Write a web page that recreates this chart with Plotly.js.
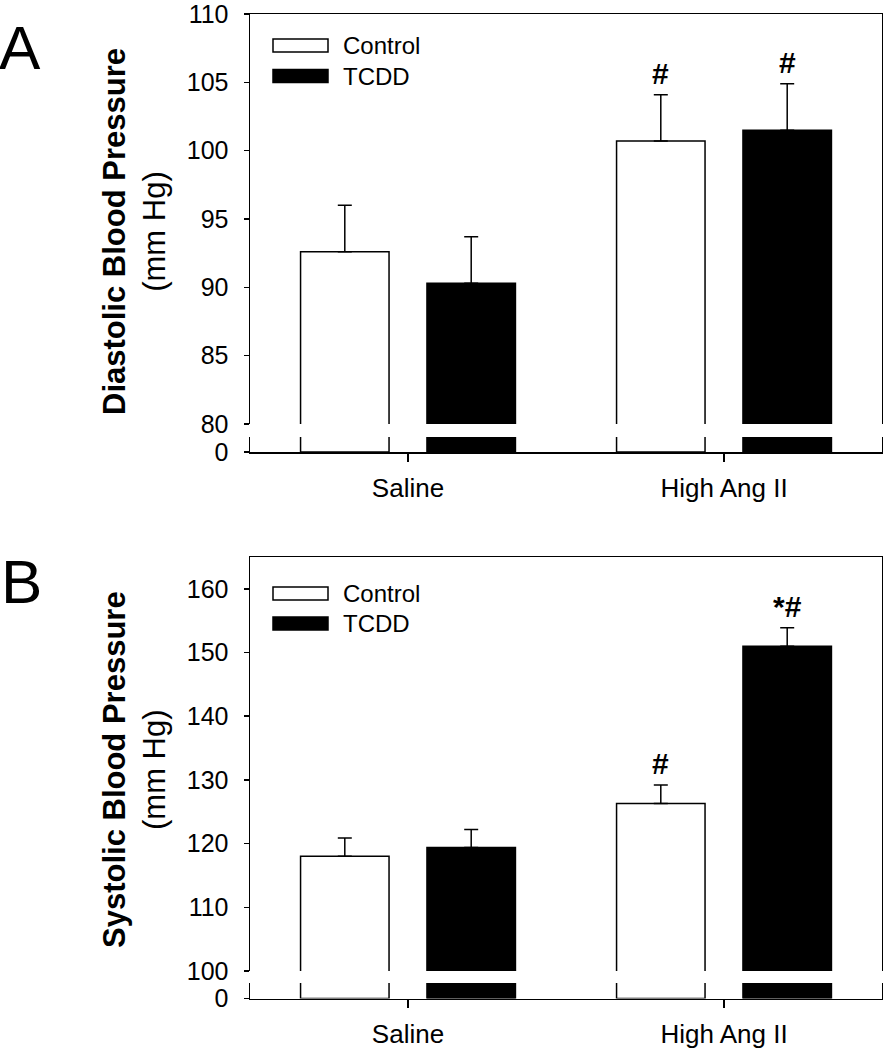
<!DOCTYPE html>
<html>
<head>
<meta charset="utf-8">
<script src="https://cdn.plot.ly/plotly-3.0.1.min.js"></script>
<style>html,body{margin:0;padding:0;background:#fff;}</style>
</head>
<body>
<div id="chart" style="width:883px;height:1050px;"></div>
<script>
// ---- data ----
const categories = ["Saline", "High Ang II"];
const seriesNames = ["Control", "TCDD"];

const diastolicControl = [92.6, 100.7];
const diastolicControlErr = [3.4, 3.4];
const diastolicTCDD = [90.3, 101.5];
const diastolicTCDDErr = [3.4, 3.4];

const systolicControl = [118.0, 126.3];
const systolicControlErr = [2.9, 2.9];
const systolicTCDD = [119.4, 151.0];
const systolicTCDDErr = [2.8, 2.9];

const noLowerErr = [0, 0];

const diastolicControlSig = ["", "#"];
const diastolicTCDDSig = ["", "#"];
const systolicControlSig = ["", "#"];
const systolicTCDDSig = ["", "*#"];

const diastolicTicks = [80, 85, 90, 95, 100, 105, 110];
const systolicTicks = [100, 110, 120, 130, 140, 150, 160];

// ---- styling ----
const FONT = "Liberation Sans, Arial, Helvetica, sans-serif";
const LW = 1.5;
const fills = ["#ffffff", "#000000"];

function barTrace(name, vals, errs, fill, xa, ya) {
  return {
    type: "bar", name: name, x: categories, y: vals, xaxis: xa, yaxis: ya,
    marker: {color: fill, line: {color: "#000", width: LW}},
    error_y: {type: "data", symmetric: false, array: errs, arrayminus: noLowerErr,
              color: "#000", thickness: LW, width: 7},
    showlegend: false, hoverinfo: "x+y"
  };
}

const traces = [
  barTrace(seriesNames[0], diastolicControl, diastolicControlErr, fills[0], "x", "y"),
  barTrace(seriesNames[1], diastolicTCDD, diastolicTCDDErr, fills[1], "x", "y"),
  barTrace(seriesNames[0], diastolicControl, diastolicControlErr, fills[0], "x2", "y2"),
  barTrace(seriesNames[1], diastolicTCDD, diastolicTCDDErr, fills[1], "x2", "y2"),
  barTrace(seriesNames[0], systolicControl, systolicControlErr, fills[0], "x3", "y3"),
  barTrace(seriesNames[1], systolicTCDD, systolicTCDDErr, fills[1], "x3", "y3"),
  barTrace(seriesNames[0], systolicControl, systolicControlErr, fills[0], "x4", "y4"),
  barTrace(seriesNames[1], systolicTCDD, systolicTCDDErr, fills[1], "x4", "y4")
];

// page geometry helpers (paper fractions from pixel positions)
const W = 883, H = 1050;
const px = v => v / W;
const py = v => 1 - v / H;

const xDom = [px(250), px(882)];

function topX(anchor) {
  return {domain: xDom, anchor: anchor, side: "top", showline: true, linecolor: "#000",
          linewidth: LW, ticks: "", showticklabels: false, showgrid: false, zeroline: false,
          fixedrange: true};
}
function bottomX(anchor) {
  return {domain: xDom, anchor: anchor, side: "bottom", showline: true, linecolor: "#000",
          linewidth: LW, ticks: "outside", ticklen: 8, tickwidth: LW, tickcolor: "#000",
          showgrid: false, zeroline: false, tickfont: {family: FONT, size: 26, color: "#000"},
          ticklabelstandoff: 4, fixedrange: true};
}
function yAx(anchor, dom, range, tickvals) {
  return {domain: dom, anchor: anchor, range: range, tickvals: tickvals, ticks: "outside",
          ticklen: 5, tickwidth: LW, tickcolor: "#000", showline: true, mirror: true,
          linecolor: "#000", linewidth: LW, showgrid: false, zeroline: false,
          tickfont: {family: FONT, size: 25, color: "#000"}, ticklabelstandoff: 10,
          ticklabeloverflow: "allow", fixedrange: true};
}

const annotations = [];
const groupOffset = 0.2;
function addSig(sigs, vals, errs, xa, ya, side) {
  sigs.forEach((s, i) => {
    if (!s) return;
    annotations.push({xref: xa, yref: ya, x: i + side * groupOffset, y: vals[i] + errs[i],
      xanchor: "center", yanchor: "bottom", yshift: 3, showarrow: false, text: "<b>" + s + "</b>",
      font: {family: FONT, size: 30, color: "#000"}});
  });
}
addSig(diastolicControlSig, diastolicControl, diastolicControlErr, "x", "y", -1);
addSig(diastolicTCDDSig, diastolicTCDD, diastolicTCDDErr, "x", "y", 1);
addSig(systolicControlSig, systolicControl, systolicControlErr, "x3", "y3", -1);
addSig(systolicTCDDSig, systolicTCDD, systolicTCDDErr, "x3", "y3", 1);

// panel letters
annotations.push({xref: "paper", yref: "paper", x: px(-3), y: py(47), xanchor: "left", yanchor: "middle",
  showarrow: false, text: "A", font: {family: FONT, size: 62, color: "#000"}});
annotations.push({xref: "paper", yref: "paper", x: px(-1), y: py(581), xanchor: "left", yanchor: "middle",
  showarrow: false, text: "B", font: {family: FONT, size: 62, color: "#000"}});

// y-axis titles
annotations.push({xref: "paper", yref: "paper", x: px(134), y: py(232), xanchor: "center", yanchor: "middle",
  textangle: -90, showarrow: false, text: "<b>Diastolic Blood Pressure</b><br>(mm Hg)",
  font: {family: FONT, size: 31, color: "#000"}});
annotations.push({xref: "paper", yref: "paper", x: px(134), y: py(770), xanchor: "center", yanchor: "middle",
  textangle: -90, showarrow: false, text: "<b>Systolic Blood Pressure</b><br>(mm Hg)",
  font: {family: FONT, size: 31, color: "#000"}});

// manual legends (key boxes + labels)
const shapes = [];
function addLegend(yControl, yTCDD) {
  [[yControl, fills[0], seriesNames[0]], [yTCDD, fills[1], seriesNames[1]]].forEach(([yc, fill, name]) => {
    shapes.push({type: "rect", xref: "paper", yref: "paper", x0: px(273), x1: px(328),
      y0: py(yc - 6.5), y1: py(yc + 6.5), fillcolor: fill, line: {color: "#000", width: LW}});
    annotations.push({xref: "paper", yref: "paper", x: px(341), y: py(yc), xanchor: "left",
      yanchor: "middle", showarrow: false, text: name, font: {family: FONT, size: 24, color: "#000"}});
  });
}
addLegend(45.5, 76);
addLegend(593.5, 623.5);

const layout = {
  width: W, height: H, margin: {l: 0, r: 0, t: 0, b: 0},
  paper_bgcolor: "#fff", plot_bgcolor: "rgba(0,0,0,0)",
  font: {family: FONT, color: "#000", size: 24},
  barmode: "group", bargap: 0.2, bargroupgap: 0.3, showlegend: false,
  xaxis: topX("y"),
  yaxis: yAx("x", [py(424), py(14)], [80, 110], diastolicTicks),
  xaxis2: bottomX("y2"),
  yaxis2: yAx("x2", [py(452), py(437)], [0, 10], [0]),
  xaxis3: topX("y3"),
  yaxis3: yAx("x3", [py(971), py(557)], [100, 165], systolicTicks),
  xaxis4: bottomX("y4"),
  yaxis4: yAx("x4", [py(998.5), py(983)], [0, 10], [0]),
  annotations: annotations,
  shapes: shapes
};

Plotly.newPlot("chart", traces, layout, {displayModeBar: false, staticPlot: true});
</script>
</body>
</html>
